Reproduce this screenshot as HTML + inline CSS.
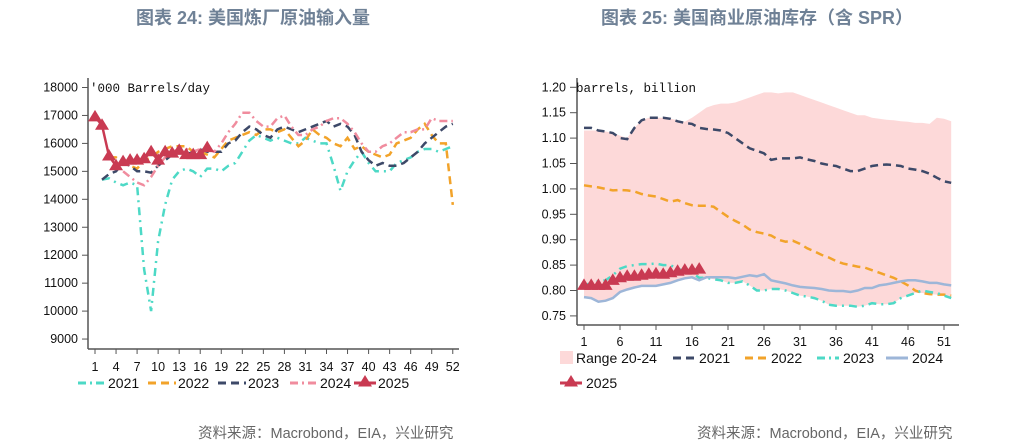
<!DOCTYPE html>
<html><head><meta charset="utf-8"><style>
body{margin:0;background:#fff;}
svg{display:block;font-family:"Liberation Sans","Noto Sans CJK SC",sans-serif;}
.tk{font-size:12.5px;fill:#111;}
.ttl{font-size:18px;font-weight:bold;fill:#6f8196;font-family:"Liberation Sans","Noto Sans CJK SC",sans-serif;}
.src{font-size:14.5px;fill:#666;}
.lg{font-size:14px;fill:#111;}
</style></head><body>
<svg id="svg" width="1010" height="447" viewBox="0 0 1010 447">
<text class="ttl" x="253" y="24" text-anchor="middle">图表 24: 美国炼厂原油输入量</text>
<text class="ttl" x="757" y="24" text-anchor="middle">图表 25: 美国商业原油库存（含 SPR）</text>
<text class="src" x="198" y="438">资料来源：Macrobond，EIA，兴业研究</text>
<text class="src" x="697" y="438">资料来源：Macrobond，EIA，兴业研究</text>
<g id="L"></g>
<g id="R"></g>
</svg>
<script>
// ---- left chart data ('000 barrels/day)
const L2021=[null,14700,14750,14600,14500,14600,14500,11500,10000,12500,13800,14700,15000,15100,15000,14800,15100,15100,15000,15200,15300,15700,16100,16300,16200,16100,16200,16100,16000,16000,16200,16100,16000,16000,15200,14300,15000,15400,15700,15300,15000,15000,15000,15300,15400,15500,15700,15800,15800,15700,15800,15900];
const L2022=[null,null,15500,15500,15300,15200,15100,15400,15500,15700,15800,15900,15900,15900,15700,15700,15600,15500,15800,16100,16200,16300,16400,16300,16500,16500,16400,16500,16200,15900,16100,16500,16300,16200,16000,15900,16200,15800,15900,15700,15600,15500,15600,16000,16100,16200,16500,16700,16300,16000,16000,13800];
const L2023=[null,14700,14900,15000,15300,15200,15000,15000,14950,15200,15400,15600,15700,15600,15700,15800,15700,15700,15700,16000,16100,16400,16600,16500,16300,16200,16500,16600,16500,16400,16500,16600,16700,16800,16600,16700,16600,16300,15700,15400,15200,15300,15200,15200,15300,15500,15700,16000,16200,16400,16600,16700];
const L2024=[null,null,null,null,15000,14800,14600,14500,14800,15200,15500,15700,15800,15800,15700,15800,15800,15700,16000,16400,16700,17100,17100,16800,16600,16600,16900,17000,16600,16300,16300,16500,16600,16800,16900,16900,16700,16400,16000,15700,15700,15900,16000,16200,16400,16400,16500,16500,16900,16800,16800,16800];
const L2025=[16950,16650,15550,15200,15350,15400,15400,15450,15700,15400,15700,15650,15750,15600,15600,15600,15850];
const LyTicks=[9000,10000,11000,12000,13000,14000,15000,16000,17000,18000];
const LxTicks=[1,4,7,10,13,16,19,22,25,28,31,34,37,40,43,46,49,52];
// ---- right chart data (billion barrels)
const R2021=[1.12,1.12,1.115,1.113,1.11,1.10,1.098,1.12,1.135,1.14,1.14,1.14,1.138,1.133,1.13,1.128,1.12,1.118,1.117,1.115,1.11,1.10,1.09,1.08,1.075,1.07,1.057,1.06,1.06,1.06,1.062,1.058,1.055,1.05,1.047,1.045,1.04,1.035,1.035,1.04,1.045,1.047,1.048,1.047,1.045,1.04,1.038,1.035,1.03,1.022,1.015,1.012];
const R2022=[1.007,1.005,1.003,1.0,0.997,0.998,0.997,0.995,0.99,0.987,0.985,0.98,0.975,0.978,0.972,0.968,0.967,0.967,0.965,0.955,0.945,0.937,0.93,0.92,0.915,0.912,0.908,0.90,0.896,0.898,0.892,0.883,0.877,0.87,0.865,0.858,0.853,0.85,0.847,0.845,0.84,0.835,0.83,0.825,0.818,0.81,0.80,0.795,0.793,0.792,0.792,0.79];
const R2023=[0.81,0.815,0.818,0.82,0.83,0.843,0.848,0.85,0.852,0.852,0.853,0.85,0.85,0.843,0.838,0.835,0.825,0.825,0.822,0.82,0.815,0.815,0.818,0.81,0.80,0.80,0.803,0.803,0.80,0.795,0.79,0.788,0.785,0.78,0.772,0.77,0.77,0.77,0.768,0.77,0.775,0.773,0.773,0.775,0.785,0.79,0.795,0.80,0.797,0.795,0.79,0.785];
const R2024=[0.787,0.785,0.778,0.78,0.785,0.797,0.802,0.806,0.809,0.809,0.809,0.812,0.815,0.82,0.824,0.826,0.82,0.826,0.826,0.826,0.826,0.824,0.827,0.83,0.828,0.832,0.82,0.817,0.814,0.81,0.807,0.806,0.805,0.803,0.80,0.799,0.799,0.797,0.80,0.805,0.805,0.81,0.812,0.815,0.818,0.82,0.82,0.818,0.815,0.815,0.812,0.81];
const R2025=[0.81,0.81,0.81,0.81,0.82,0.825,0.828,0.828,0.83,0.832,0.833,0.832,0.835,0.838,0.84,0.84,0.842];
const RangeHigh=[1.115,1.115,1.115,1.113,1.11,1.105,1.10,1.12,1.135,1.14,1.14,1.14,1.138,1.135,1.132,1.14,1.15,1.16,1.165,1.168,1.168,1.17,1.175,1.18,1.185,1.19,1.19,1.188,1.19,1.19,1.185,1.18,1.175,1.17,1.165,1.16,1.155,1.15,1.145,1.145,1.14,1.138,1.136,1.135,1.133,1.132,1.13,1.13,1.128,1.14,1.138,1.133];
const RyTicks=[0.75,0.80,0.85,0.90,0.95,1.00,1.05,1.10,1.15,1.20];
const RxTicks=[1,6,11,16,21,26,31,36,41,46,51];

const NS='http://www.w3.org/2000/svg';
function mk(parent,tag,attrs){const e=document.createElementNS(NS,tag);for(const k in attrs)e.setAttribute(k,attrs[k]);parent.appendChild(e);return e;}
function poly(g,arr,xf,yf,style,name){
  let d='',pen=false;
  arr.forEach((v,i)=>{if(v==null){pen=false;return;}d+=(pen?'L':'M')+xf(i+1).toFixed(1)+' '+yf(v).toFixed(1);pen=true;});
  const p=mk(g,'path',Object.assign({d:d,fill:'none'},style));
  
  
  return p;
}
function tri(g,x,y,c){const t=mk(g,'path',{d:`M${x} ${y-7}L${x+7} ${y+4.5}L${x-7} ${y+4.5}Z`,fill:c});
  
  }
const C={c21:'#4dd9c6',c22:'#f2a32a',c23:'#3d4968',c24:'#f08c9e',c25:'#c93a52',b24:'#9db6d8',band:'#fdd9d9'};

// LEFT
(function(){
  const g=document.getElementById('L');
  const X=w=>95+(w-1)*7.015, Y=v=>87.5+(18000-v)/1000*27.95;
  mk(g,'line',{x1:88,y1:78,x2:88,y2:349,stroke:'#555','stroke-width':1.5});
  mk(g,'line',{x1:88,y1:349,x2:459,y2:349,stroke:'#555','stroke-width':1.5});
  LyTicks.forEach(v=>{mk(g,'line',{x1:82,x2:88,y1:Y(v),y2:Y(v),stroke:'#555'});
    const t=mk(g,'text',{x:78,y:Y(v)+4,'text-anchor':'end',class:'tk'});t.textContent=v;
    
    });
  LxTicks.forEach(w=>{mk(g,'line',{x1:X(w),x2:X(w),y1:349,y2:354,stroke:'#555'});
    const t=mk(g,'text',{x:X(w),y:371,'text-anchor':'middle',class:'tk'});t.textContent=w;
    
    });
  const u=mk(g,'text',{x:90,y:92,style:'font-family:"Liberation Mono",monospace;font-size:12.5px;fill:#111'});u.textContent="'000 Barrels/day";
  
  
  poly(g,L2021,X,Y,{stroke:C.c21,'stroke-width':2.5,'stroke-dasharray':'8 5 2 5'},'series-2021');
  poly(g,L2022,X,Y,{stroke:C.c22,'stroke-width':2.5,'stroke-dasharray':'8 5'},'series-2022');
  poly(g,L2023,X,Y,{stroke:C.c23,'stroke-width':2.5,'stroke-dasharray':'8 5'},'series-2023');
  poly(g,L2024,X,Y,{stroke:C.c24,'stroke-width':2.5,'stroke-dasharray':'8 4 2 4'},'series-2024');
  poly(g,L2025,X,Y,{stroke:C.c25,'stroke-width':2.5},'series-2025');
  L2025.forEach((v,i)=>tri(g,X(i+1),Y(v),C.c25));
  const lg=[[78,'2021',C.c21,'8 4 2 4'],[148,'2022',C.c22,'8 5'],[218,'2023',C.c23,'8 5'],[290,'2024',C.c24,'8 4 2 4']];
  lg.forEach(([x,l,c,da])=>{mk(g,'line',{x1:x,x2:x+28,y1:383,y2:383,stroke:c,'stroke-width':3,'stroke-dasharray':da});
    const t=mk(g,'text',{x:x+30,y:388,class:'lg'});t.textContent=l;
    
    });
  mk(g,'line',{x1:354,x2:376,y1:383,y2:383,stroke:C.c25,'stroke-width':3});tri(g,365,382,C.c25);
  const t=mk(g,'text',{x:378,y:388,class:'lg'});t.textContent='2025';
  
  
})();

// RIGHT
(function(){
  const g=document.getElementById('R');
  const X=w=>584+(w-1)*7.2, Y=v=>87.3+(1.20-v)/0.05*25.4;
  let d='';
  RangeHigh.forEach((v,i)=>{d+=(i?'L':'M')+X(i+1).toFixed(1)+' '+Y(v).toFixed(1);});
  for(let i=51;i>=0;i--){const lo=Math.min(R2021[i],R2022[i],R2023[i],R2024[i]);d+='L'+X(i+1).toFixed(1)+' '+Y(lo).toFixed(1);}
  const b=mk(g,'path',{d:d+'Z',fill:C.band});
  
  
  mk(g,'line',{x1:577,y1:78,x2:577,y2:325,stroke:'#555','stroke-width':1.5});
  mk(g,'line',{x1:577,y1:325,x2:959,y2:325,stroke:'#555','stroke-width':1.5});
  RyTicks.forEach(v=>{mk(g,'line',{x1:570,x2:577,y1:Y(v),y2:Y(v),stroke:'#555'});
    const t=mk(g,'text',{x:566,y:Y(v)+4,'text-anchor':'end',class:'tk'});t.textContent=v.toFixed(2);
    
    });
  RxTicks.forEach(w=>{mk(g,'line',{x1:X(w),x2:X(w),y1:325,y2:330,stroke:'#555'});
    const t=mk(g,'text',{x:X(w),y:346,'text-anchor':'middle',class:'tk'});t.textContent=w;
    
    });
  const u=mk(g,'text',{x:576,y:92,style:'font-family:"Liberation Mono",monospace;font-size:12.5px;fill:#111'});u.textContent='barrels, billion';
  
  
  poly(g,R2021,X,Y,{stroke:C.c23,'stroke-width':2.5,'stroke-dasharray':'8 5'},'series-2021');
  poly(g,R2022,X,Y,{stroke:C.c22,'stroke-width':2.5,'stroke-dasharray':'8 5'},'series-2022');
  poly(g,R2023,X,Y,{stroke:C.c21,'stroke-width':2.5,'stroke-dasharray':'8 5 2 5'},'series-2023');
  poly(g,R2024,X,Y,{stroke:C.b24,'stroke-width':2.5},'series-2024');
  poly(g,R2025,X,Y,{stroke:C.c25,'stroke-width':2.5},'series-2025');
  R2025.forEach((v,i)=>tri(g,X(i+1),Y(v),C.c25));
  const r=mk(g,'rect',{x:560,y:351,width:13,height:13,fill:C.band});
  
  
  let t=mk(g,'text',{x:576,y:363,class:'lg'});t.textContent='Range 20-24';
  
  
  const lg=[[673,'2021',C.c23,'8 5'],[745,'2022',C.c22,'8 5'],[817,'2023',C.c21,'8 4 2 4'],[886,'2024',C.b24,'']];
  lg.forEach(([x,l,c,da])=>{const a={x1:x,x2:x+22,y1:358,y2:358,stroke:c,'stroke-width':3};if(da)a['stroke-dasharray']=da;mk(g,'line',a);
    const tt=mk(g,'text',{x:x+26,y:363,class:'lg'});tt.textContent=l;
    
    });
  mk(g,'line',{x1:560,x2:582,y1:383,y2:383,stroke:C.c25,'stroke-width':3});tri(g,571,382,C.c25);
  t=mk(g,'text',{x:586,y:388,class:'lg'});t.textContent='2025';
  
  
})();
</script>
</body></html>
